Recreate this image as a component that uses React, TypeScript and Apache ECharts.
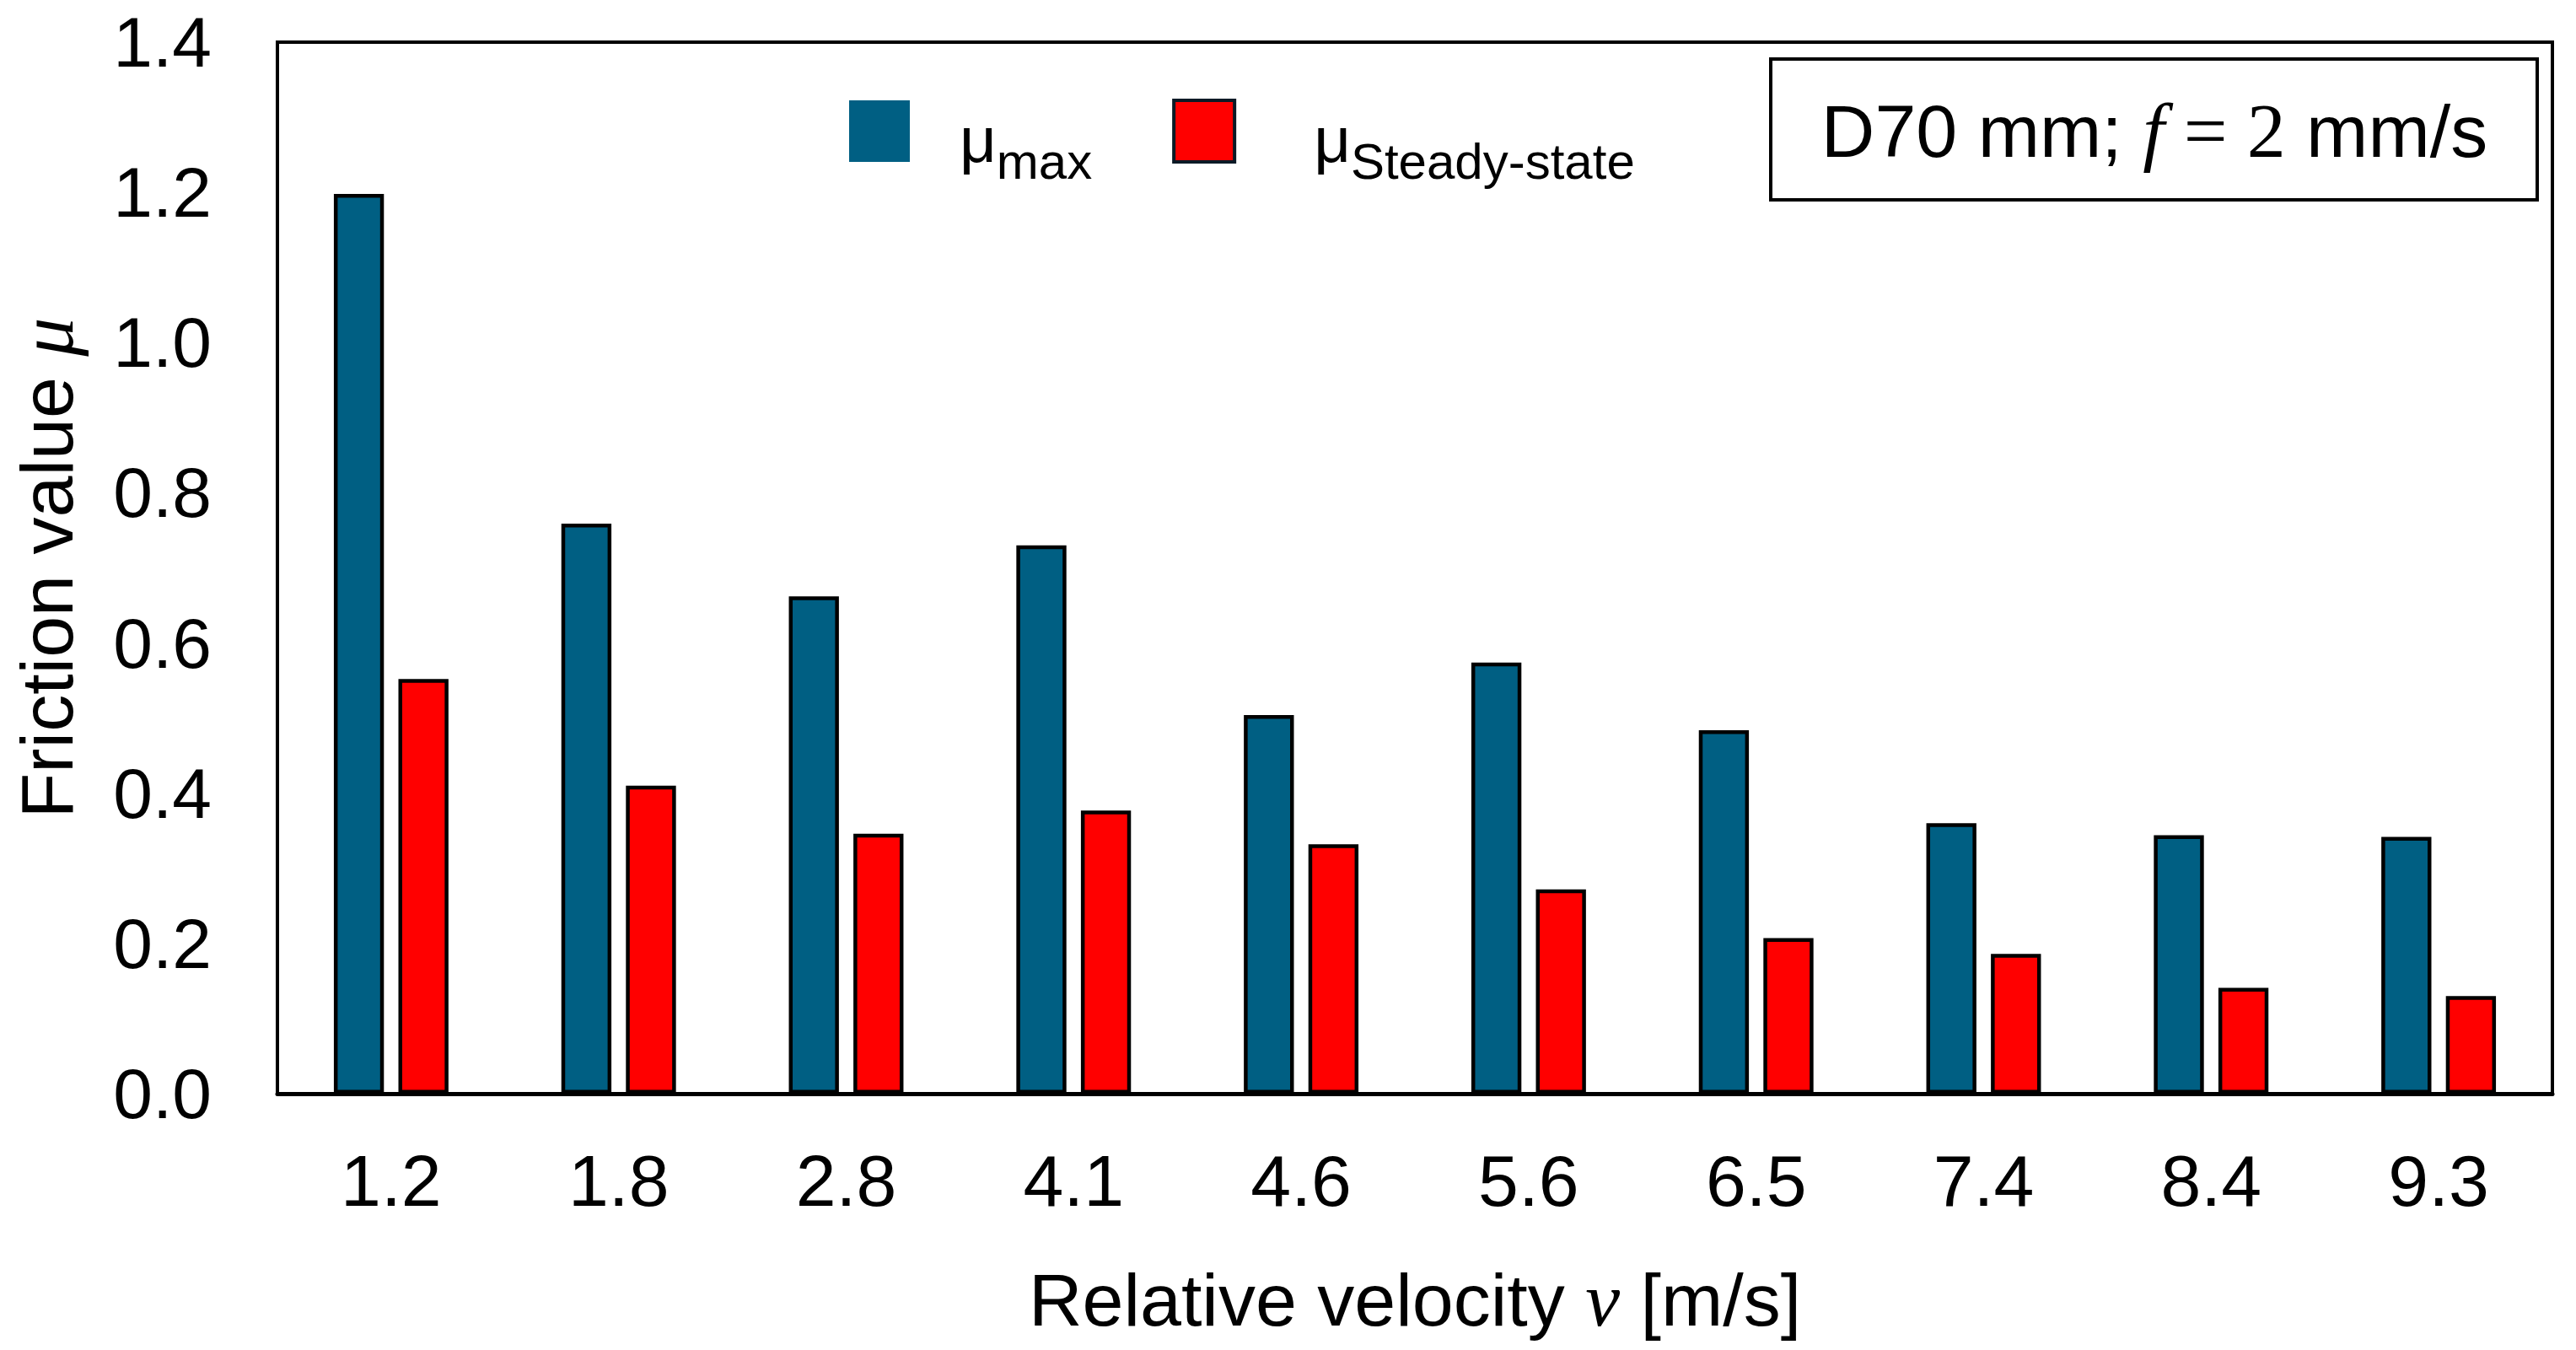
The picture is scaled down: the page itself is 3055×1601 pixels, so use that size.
import React, { useEffect, useRef } from "react";
import * as echarts from "echarts";

const categories = ["1.2", "1.8", "2.8", "4.1", "4.6", "5.6", "6.5", "7.4", "8.4", "9.3"];
const muMax = [1.198, 0.759, 0.662, 0.73, 0.504, 0.574, 0.484, 0.36, 0.344, 0.342];
const muSteady = [0.552, 0.41, 0.346, 0.377, 0.332, 0.272, 0.207, 0.186, 0.141, 0.13];
const seriesNames = ["μmax", "μSteady-state"];
const yTicks = { min: 0, max: 1.4, interval: 0.2 };

const SANS = "'Liberation Sans', Arial, sans-serif";
const SERIF = "'Liberation Serif', 'Times New Roman', serif";
const BLUE = "#005F83";
const RED = "#FF0000";

export default function App() {
  const ref = useRef<HTMLDivElement>(null);

  useEffect(() => {
    document.body.style.margin = "0";
    if (!ref.current) return;
    const chart = echarts.init(ref.current, undefined, { renderer: "svg" });
    chart.setOption({
      animation: false,
      backgroundColor: "#ffffff",
      textStyle: { fontFamily: SANS },
      grid: {
        left: 329,
        top: 50,
        right: 28,
        bottom: 304,
        show: true,
        borderColor: "#000",
        borderWidth: 4,
        backgroundColor: "transparent",
      },
      legend: {
        left: 1007,
        top: 117,
        padding: 0,
        icon: "rect",
        itemWidth: 72,
        itemHeight: 73,
        itemGap: 95,
        data: [
          { name: seriesNames[0], itemStyle: { borderWidth: 0 } },
          { name: seriesNames[1], itemStyle: { borderColor: "#0b1a26", borderWidth: 4 } },
        ],
        formatter: (name: string) =>
          name === seriesNames[0] ? "{m1|μ}{s|max}" : "{m2|μ}{s|Steady-state}",
        textStyle: {
          color: "#000",
          fontFamily: SANS,
          rich: {
            m1: { fontSize: 76, fontFamily: SANS, color: "#000", padding: [20, 0, 0, 54] },
            m2: { fontSize: 76, fontFamily: SANS, color: "#000", padding: [20, 0, 0, 89] },
            s: { fontSize: 60, fontFamily: SANS, color: "#000", padding: [72, 0, 0, 0] },
          },
        },
      },
      xAxis: {
        type: "category",
        data: categories,
        name: "Relative velocity {i|v} [m/s]",
        nameLocation: "middle",
        nameGap: 198,
        nameTextStyle: {
          fontSize: 88,
          color: "#000",
          fontFamily: SANS,
          rich: {
            i: { fontSize: 92, fontFamily: SERIF, fontStyle: "italic", color: "#000" },
          },
        },
        axisLine: { show: true, lineStyle: { color: "#000", width: 5 } },
        axisTick: { show: false },
        axisLabel: { interval: 0, fontSize: 86, color: "#000", margin: 60, fontFamily: SANS },
        splitLine: { show: false },
      },
      yAxis: {
        type: "value",
        min: yTicks.min,
        max: yTicks.max,
        interval: yTicks.interval,
        name: "Friction value {i|μ}",
        nameLocation: "middle",
        nameRotate: 90,
        nameGap: 228,
        nameTextStyle: {
          fontSize: 88,
          color: "#000",
          fontFamily: SANS,
          rich: {
            i: { fontSize: 92, fontFamily: SERIF, fontStyle: "italic", color: "#000" },
          },
        },
        axisLine: { show: true, lineStyle: { color: "#000", width: 4 } },
        axisTick: { show: false },
        axisLabel: {
          fontSize: 84,
          lineHeight: 80,
          color: "#000",
          margin: 78,
          fontFamily: SANS,
          formatter: (v: number) => v.toFixed(1),
        },
        splitLine: { show: false },
      },
      series: [
        {
          name: seriesNames[0],
          type: "bar",
          data: muMax,
          barWidth: "22%",
          barGap: "29%",
          itemStyle: { color: BLUE, borderColor: "#000", borderWidth: 4.5 },
        },
        {
          name: seriesNames[1],
          type: "bar",
          data: muSteady,
          barWidth: "22%",
          barGap: "29%",
          itemStyle: { color: RED, borderColor: "#000", borderWidth: 4.5 },
        },
      ],
      graphic: [
        {
          type: "rect",
          shape: { x: 2100, y: 70, width: 909, height: 167 },
          style: { fill: "#fff", stroke: "#000", lineWidth: 4 },
          z: 10,
        },
        {
          type: "text",
          x: 2555,
          y: 155,
          z: 11,
          style: {
            text: "{a|D70 mm; }{b|f}{c| = 2}{a| mm/s}",
            align: "center",
            verticalAlign: "middle",
            rich: {
              a: { fontSize: 88, fontFamily: SANS, fill: "#000" },
              b: { fontSize: 92, fontFamily: SERIF, fontStyle: "italic", fill: "#000" },
              c: { fontSize: 92, fontFamily: SERIF, fill: "#000" },
            },
          },
        },
      ],
    });
    return () => chart.dispose();
  }, []);

  return <div ref={ref} style={{ width: 3055, height: 1601 }} />;
}
